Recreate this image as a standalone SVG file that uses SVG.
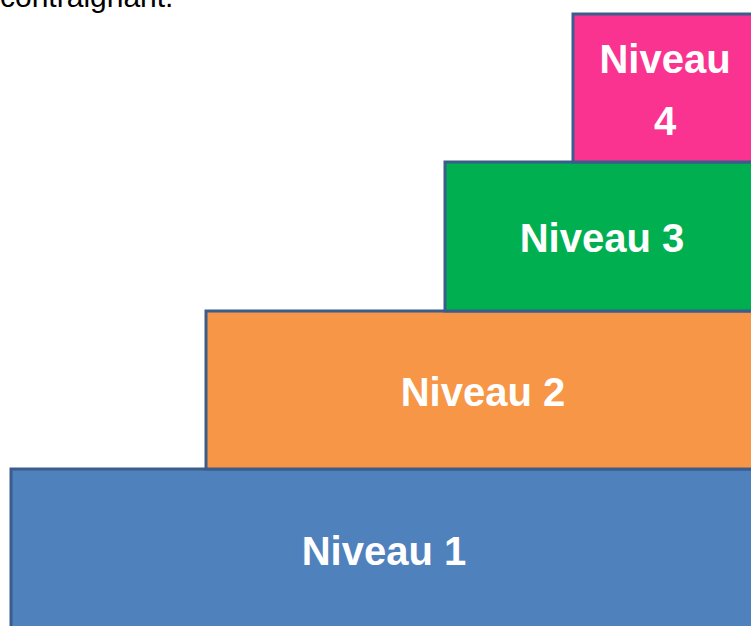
<svg xmlns="http://www.w3.org/2000/svg" width="751" height="626" viewBox="0 0 751 626">
<style>
.box{stroke:#3A5D8C;stroke-width:3}
.lbl{font-family:"Liberation Sans",Arial,sans-serif;font-weight:bold;font-size:40px;fill:#FFFFFF;text-anchor:middle}
.top{font-family:"Liberation Sans",Arial,sans-serif;font-size:30px;fill:#000000}
</style>
<rect width="751" height="626" fill="#FFFFFF"/>
<text class="top" x="0" y="7">contraignant.</text>
<g id="niveau1">
<rect class="box" x="11" y="469" width="760" height="180" fill="#4F81BD"/>
<text class="lbl" x="384" y="565">Niveau 1</text>
</g>
<g id="niveau2">
<rect class="box" x="206" y="311" width="560" height="158" fill="#F79646"/>
<text class="lbl" x="483" y="406">Niveau 2</text>
</g>
<g id="niveau3">
<rect class="box" x="445" y="162" width="320" height="149" fill="#00B050"/>
<text class="lbl" x="602" y="252">Niveau 3</text>
</g>
<g id="niveau4">
<rect class="box" x="573" y="14" width="200" height="148" fill="#FA3391"/>
<text class="lbl" x="665" y="73">Niveau</text>
<text class="lbl" x="665" y="135">4</text>
</g>
<g id="connectors"></g>
</svg>
